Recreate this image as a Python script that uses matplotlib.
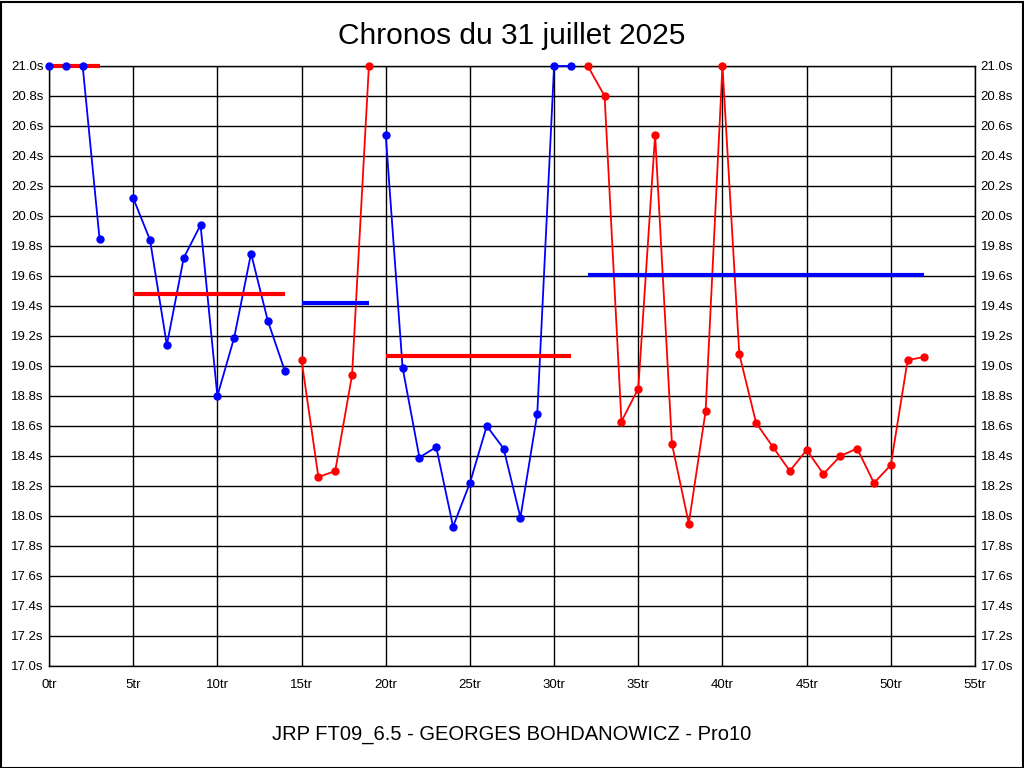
"""Chronos du 31 juillet 2025 - lap times by stint."""

import matplotlib

matplotlib.use("Agg")

import matplotlib.pyplot as plt
from matplotlib.patches import Rectangle

plt.rcParams["font.family"] = ["Liberation Sans", "DejaVu Sans"]

BLUE = "#0000ff"
RED = "#ff0000"

# stints: lap numbers and displayed lap times (capped at 21.0 s)
stint1_laps = [0, 1, 2, 3]
stint1_times = [21.0, 21.0, 21.0, 19.85]

stint2_laps = [5, 6, 7, 8, 9, 10, 11, 12, 13, 14]
stint2_times = [20.12, 19.84, 19.14, 19.72, 19.94, 18.80, 19.19, 19.75, 19.30, 18.97]

stint3_laps = [15, 16, 17, 18, 19]
stint3_times = [19.04, 18.26, 18.30, 18.94, 21.0]

stint4_laps = [20, 21, 22, 23, 24, 25, 26, 27, 28, 29, 30, 31]
stint4_times = [20.54, 18.99, 18.39, 18.46, 17.93, 18.22, 18.60, 18.45, 17.99, 18.68, 21.0, 21.0]

stint5_laps = [32, 33, 34, 35, 36, 37, 38, 39, 40, 41, 42, 43, 44, 45, 46, 47, 48,
               49, 50, 51, 52]
stint5_times = [21.0, 20.80, 18.63, 18.85, 20.54, 18.48, 17.95, 18.70, 21.0, 19.08,
                18.62, 18.46, 18.30, 18.44, 18.28, 18.40, 18.45, 18.22, 18.34, 19.04,
                19.06]

# stint averages
stint_avgs = [21.0, 19.48, 19.42, 19.07, 19.61]

stints = [
    (stint1_laps, stint1_times, BLUE, RED),
    (stint2_laps, stint2_times, BLUE, RED),
    (stint3_laps, stint3_times, RED, BLUE),
    (stint4_laps, stint4_times, BLUE, RED),
    (stint5_laps, stint5_times, RED, BLUE),
]

x_ticks = [0, 5, 10, 15, 20, 25, 30, 35, 40, 45, 50, 55]
y_ticks = [17.0 + 0.2 * i for i in range(21)]

fig = plt.figure(figsize=(10.24, 7.68), dpi=100)
ax = fig.add_axes([49 / 1024, 102 / 768, 926 / 1024, 600 / 768])

for (laps, times, line_color, avg_color), avg in zip(stints, stint_avgs):
    ax.plot(laps, times, "-", color=line_color, lw=1.3, zorder=3, clip_on=False)
    ax.plot([laps[0], laps[-1]], [avg, avg], color=avg_color, lw=3, zorder=4,
            solid_capstyle="butt", clip_on=False)
    ax.plot(laps, times, "o", color=line_color, ms=5, zorder=5, clip_on=False)

ax.set_xlim(0, 55)
ax.set_ylim(17.0, 21.0)
ax.set_xticks(x_ticks)
ax.set_xticklabels([f"{t}tr" for t in x_ticks])
ax.set_yticks(y_ticks)
ax.set_yticklabels([f"{t:.1f}s" for t in y_ticks])
ax.grid(True, color="black", lw=1)
ax.set_axisbelow(True)
ax.tick_params(axis="y", length=0, pad=4, labelsize=9.5, labelright=True)
ax.tick_params(axis="x", length=0, pad=9, labelsize=9.5)
for spine in ax.spines.values():
    spine.set_linewidth(1)
    spine.set_color("black")

fig.text(0.5, 1 - 36 / 768, "Chronos du 31 juillet 2025", ha="center", va="center",
         fontsize=21.5)
fig.text(0.5, 1 - 735 / 768, "JRP FT09_6.5 - GEORGES BOHDANOWICZ - Pro10",
         ha="center", va="center", fontsize=14.5)

fig.patches.append(Rectangle((0.5 / 1024, 0.5 / 768), 1022 / 1024, 766 / 768,
                             transform=fig.transFigure, fill=False,
                             edgecolor="black", lw=1.5))

fig.savefig("out.png", dpi=100)
plt.close(fig)
